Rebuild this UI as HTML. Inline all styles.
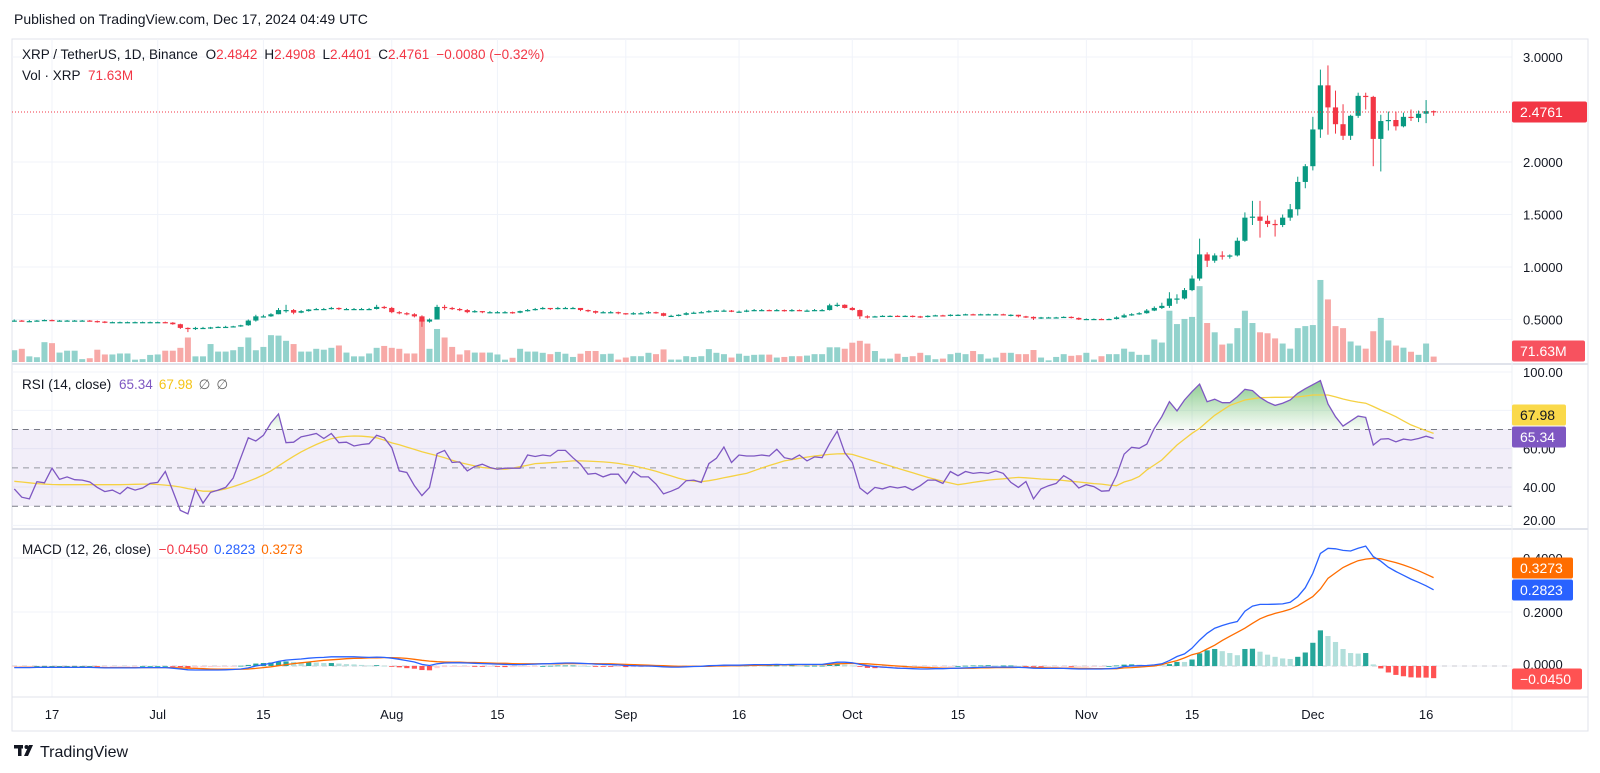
<!DOCTYPE html>
<html><head><meta charset="utf-8"><style>
html,body{margin:0;padding:0;background:#fff;}
svg{display:block;font-family:"Liberation Sans",sans-serif;}
</style></head><body>
<svg id="chart" width="1600" height="773" viewBox="0 0 1600 773" xmlns="http://www.w3.org/2000/svg">
<defs>
<clipPath id="mainClip"><rect x="12" y="39" width="1500" height="325"/></clipPath>
<clipPath id="obClip"><rect x="12" y="365" width="1500" height="64"/></clipPath>
<linearGradient id="obGrad" gradientUnits="userSpaceOnUse" x1="0" y1="372" x2="0" y2="429">
<stop offset="0" stop-color="rgb(76,175,80)" stop-opacity="0.75"/>
<stop offset="1" stop-color="rgb(76,175,80)" stop-opacity="0.04"/>
</linearGradient>
</defs>
<text x="14" y="24" font-size="14" fill="#131722">Published on TradingView.com, Dec 17, 2024 04:49 UTC</text>
<rect x="12" y="39" width="1576" height="692" fill="none" stroke="#e0e3eb"/>
<g id="grid"></g>
<rect x="12" y="429" width="1500" height="77" fill="rgba(126,87,194,0.1)"/>
<g id="marks"></g>
<line x1="12" y1="364" x2="1588" y2="364" stroke="#e0e3eb" stroke-width="2"/>
<line x1="12" y1="529" x2="1588" y2="529" stroke="#e0e3eb" stroke-width="2"/>
<line x1="1512" y1="39" x2="1512" y2="731" stroke="#eef0f4"/>
<line x1="12" y1="697" x2="1588" y2="697" stroke="#e0e3eb"/>
<g id="axes"></g>
<text x="22" y="59" font-size="13.5" fill="#131722">XRP / TetherUS, 1D, Binance <tspan dx="4">O</tspan><tspan fill="#f23645">2.4842</tspan><tspan dx="7">H</tspan><tspan fill="#f23645">2.4908</tspan><tspan dx="7">L</tspan><tspan fill="#f23645">2.4401</tspan><tspan dx="7">C</tspan><tspan fill="#f23645">2.4761</tspan><tspan dx="7" fill="#f23645">−0.0080 (−0.32%)</tspan></text>
<text x="22" y="80" font-size="13.5" fill="#131722">Vol · XRP <tspan dx="4" fill="#f23645">71.63M</tspan></text>
<text x="22" y="389" font-size="13.5" fill="#131722">RSI (14, close) <tspan dx="4" fill="#7e57c2">65.34</tspan><tspan dx="6" fill="#f5c518">67.98</tspan><tspan dx="6" fill="#666">∅</tspan><tspan dx="6" fill="#666">∅</tspan></text>
<text x="22" y="554" font-size="13.5" fill="#131722">MACD (12, 26, close) <tspan dx="4" fill="#f23645">−0.0450</tspan><tspan dx="6" fill="#2962ff">0.2823</tspan><tspan dx="6" fill="#ff6d00">0.3273</tspan></text>
<g>
<rect x="14" y="745" width="9" height="3.5" fill="#131722"/>
<rect x="18" y="745" width="3.5" height="11" fill="#131722"/>
<circle cx="26.5" cy="747" r="2" fill="#131722"/>
<path d="M29 745 L33 745 L28 756 L24 756 Z" fill="#131722"/>
<text x="40" y="757" font-size="16" fill="#131722">TradingView</text>
</g>
</svg>
<script>
const firstOpen = 0.49;
const closes = [0.49,0.485,0.485,0.49,0.495,0.49,0.49,0.49,0.49,0.49,0.485,0.48,0.475,0.475,0.475,0.475,0.475,0.475,0.475,
0.475,0.47,0.455,0.42,0.41,0.42,0.42,0.425,0.43,0.43,0.435,0.445,0.49,0.53,0.53,0.55,0.59,0.59,0.565,0.58,0.595,0.60,0.60,0.61,0.60,0.60,0.60,0.60,0.60,0.62,0.61,
0.57,0.56,0.55,0.53,0.48,0.50,0.62,0.61,0.60,0.59,0.57,0.58,0.57,0.57,0.57,0.57,0.565,0.58,0.59,0.60,0.61,0.60,0.61,0.61,0.61,0.59,0.58,0.565,0.57,0.57,0.56,
0.55,0.56,0.56,0.57,0.56,0.535,0.535,0.545,0.56,0.565,0.57,0.58,0.585,0.585,0.575,0.575,0.585,0.59,0.59,0.585,0.59,0.58,0.59,0.585,0.585,0.59,0.59,0.635,0.64,0.61,
0.59,0.53,0.525,0.53,0.535,0.535,0.53,0.535,0.53,0.525,0.535,0.54,0.535,0.545,0.545,0.55,0.545,0.55,0.55,0.55,0.545,0.545,0.53,0.525,0.51,0.52,0.52,0.52,0.525,0.515,0.50,
0.505,0.505,0.50,0.505,0.52,0.54,0.55,0.56,0.585,0.61,0.63,0.70,0.70,0.78,0.89,1.12,1.06,1.11,1.10,1.11,1.25,1.47,1.48,1.44,1.41,1.40,1.47,1.55,1.81,1.96,
2.31,2.73,2.52,2.36,2.25,2.44,2.63,2.62,2.22,2.39,2.40,2.34,2.43,2.42,2.46,2.4842,2.4761];
const highs = [0.50,0.495,0.495,0.495,0.50,0.50,0.495,0.495,0.495,0.495,0.495,0.49,0.485,0.48,0.48,0.48,0.48,0.48,0.48,
0.48,0.48,0.475,0.46,0.425,0.43,0.43,0.43,0.435,0.44,0.44,0.45,0.50,0.545,0.545,0.56,0.61,0.64,0.60,0.59,0.60,0.61,0.61,0.62,0.615,0.61,0.61,0.61,0.61,0.64,0.63,
0.62,0.58,0.57,0.56,0.54,0.51,0.64,0.64,0.62,0.61,0.60,0.59,0.58,0.58,0.58,0.58,0.575,0.585,0.60,0.61,0.62,0.61,0.62,0.62,0.62,0.61,0.595,0.585,0.58,0.58,0.575,
0.56,0.57,0.57,0.58,0.575,0.565,0.545,0.55,0.57,0.575,0.58,0.59,0.59,0.595,0.59,0.585,0.595,0.60,0.60,0.595,0.60,0.595,0.60,0.595,0.595,0.60,0.60,0.65,0.66,0.645,
0.62,0.595,0.54,0.535,0.54,0.54,0.54,0.54,0.54,0.535,0.54,0.545,0.545,0.55,0.55,0.555,0.555,0.555,0.555,0.555,0.555,0.55,0.545,0.535,0.53,0.525,0.525,0.525,0.53,0.53,0.52,
0.51,0.51,0.51,0.51,0.53,0.555,0.56,0.57,0.60,0.625,0.66,0.76,0.74,0.80,0.92,1.27,1.14,1.13,1.15,1.12,1.28,1.52,1.63,1.63,1.49,1.45,1.50,1.60,1.86,1.98,
2.43,2.88,2.92,2.68,2.55,2.45,2.66,2.66,2.63,2.45,2.48,2.48,2.47,2.50,2.49,2.59,2.4908];
const lows = [0.48,0.48,0.475,0.48,0.485,0.485,0.48,0.485,0.485,0.485,0.48,0.47,0.465,0.47,0.47,0.47,0.47,0.47,0.47,
0.47,0.465,0.45,0.41,0.38,0.40,0.41,0.41,0.42,0.42,0.425,0.43,0.44,0.48,0.52,0.525,0.55,0.565,0.55,0.56,0.575,0.59,0.59,0.595,0.59,0.59,0.595,0.59,0.59,0.595,0.60,
0.56,0.55,0.54,0.52,0.43,0.47,0.50,0.59,0.59,0.58,0.56,0.565,0.56,0.56,0.56,0.56,0.555,0.56,0.575,0.585,0.595,0.59,0.595,0.60,0.60,0.58,0.57,0.555,0.56,0.56,0.55,
0.545,0.545,0.55,0.555,0.555,0.53,0.525,0.53,0.54,0.555,0.56,0.565,0.575,0.575,0.57,0.565,0.57,0.58,0.58,0.58,0.58,0.575,0.575,0.58,0.575,0.58,0.58,0.585,0.62,0.605,
0.585,0.505,0.51,0.52,0.525,0.53,0.525,0.525,0.52,0.515,0.52,0.53,0.53,0.53,0.54,0.54,0.54,0.54,0.545,0.545,0.54,0.53,0.52,0.515,0.495,0.505,0.515,0.515,0.515,0.51,0.495,
0.495,0.50,0.495,0.495,0.50,0.515,0.535,0.545,0.555,0.58,0.60,0.61,0.65,0.69,0.77,0.87,1.00,1.04,1.07,1.08,1.10,1.24,1.40,1.28,1.38,1.29,1.38,1.44,1.49,1.75,
1.92,2.23,2.26,2.27,2.21,2.21,2.42,2.50,1.96,1.91,2.30,2.30,2.33,2.39,2.38,2.37,2.4401];
const volumes = [156,175,75,63,263,250,125,150,150,38,50,163,100,100,113,113,31,38,94,100,
150,150,188,325,75,75,238,138,138,156,200,325,156,200,356,350,281,238,138,138,
175,163,188,219,125,75,75,113,188,213,188,175,113,113,563,175,438,325,200,100,
156,125,125,125,100,31,56,175,138,138,
122,104,134,110,67,110,146,146,104,110,32,59,77,77,122,104,167,32,32,77,
67,77,171,122,104,59,110,82,95,98,98,59,67,77,77,85,104,104,195,195,
176,256,281,244,146,45,45,110,67,77,122,90,37,45,104,122,104,146,104,45,
59,122,122,104,104,159,59,22,67,104,82,90,122,32,77,104,104,
177,136,95,95,299,258,680,503,571,598,1006,517,394,231,245,449,680,517,394,381,
313,245,177,449,476,490,1088,830,476,449,272,218,177,408,585,286,218,190,136,95,245,72];
const rsi = [39,34.7,33.8,42.8,42.2,49.8,44,45.3,43.8,43.6,42.6,39.8,37.6,38.4,36.4,39.8,38.4,39.5,41.9,42.4,
48.1,38,27.8,26,39,31.6,37.2,38.4,39.8,44.7,55.3,65.7,64,67,73.4,78.1,63.1,63.4,66.2,67,
67.9,65.3,67.9,63.1,63.4,61.4,62.2,62.6,67,65.7,60.5,48.4,47.6,40.7,35.5,39.8,57.4,59.1,52.8,53.1,
48.4,50.7,51.9,50.2,49.3,49.8,49.8,49.8,56.7,55.9,
56.7,56.2,59.1,59.1,55.3,51.9,46.7,47.1,45.3,46.7,46.7,41.9,48.1,45.3,45.3,41.6,36.4,37.8,39.5,43.3,
43.6,42.4,52.2,55,60.9,52.8,56.7,56.2,56.2,56.7,56.2,59.7,55.3,54.5,56.7,53.6,55.7,55.3,62.6,69.1,
57.9,52.8,39.5,36.4,39.8,39,40.2,39.5,40.2,38.4,40.7,43.6,43.6,41.9,48.1,45.9,48.1,47.1,47.6,47.1,
48.4,47.1,42.4,39.8,42.9,33.8,39,40.7,41.9,45.9,43.6,39.5,41.2,40.2,37.8,38.1,46,
57.1,60.7,60.2,62.4,70.6,76.7,84.5,79.7,85.4,89.7,93.7,84.5,85.8,84,84,87.1,91,90.3,86.8,84.3,
82.6,83.7,85.4,88.9,91.3,93.4,95.5,83.3,76.7,71.8,74.4,77,76.3,61.9,65,65.2,63.6,65,64.5,65.3,66.5,65.34];
const rsiMA = [43,42.6,42.2,41.8,41.5,41.3,41.2,41.2,41.2,41.2,41.2,41.2,41.2,41.2,41.2,41.3,41.4,41.5,41.5,41.3,
41,40.6,40,39.2,38.5,37.8,37.8,38.2,39,40.2,41.5,43,44.5,46.3,48.4,51,53.5,56,58.3,60.3,
62.2,63.8,65.2,66,66.4,66.6,66.5,66.2,65.7,64.5,63,62,60.8,59.6,58.4,57.4,56.4,55.3,54,52.8,
51.9,51,50.2,49.8,49.5,49.3,49.8,50.6,51.4,52.2,
52.4,52.7,53,53.3,53.6,53.6,53.5,53.3,53.1,52.8,52.3,51.7,51,50.2,49.3,48.2,47,45.8,44.6,43.6,
43.1,42.8,43.3,44,44.8,45.6,46.4,47.1,48.5,49.9,51.2,52.4,53.6,54.3,55,55.6,56.2,56.6,57,57.3,
57.4,57,55.8,54.6,53.4,52.2,51,49.8,48.6,47.4,46.2,45,44,43,42.1,41.2,41.8,42.4,43,43.6,
44,44.3,44.7,45,44.8,44.5,44.2,44,43.8,43.4,43,42.6,42.2,41.8,41.5,41,40.7,
42.6,43.7,45.5,48.9,51.5,54.1,58,61.9,65,68,70.6,74,77.4,80,82.6,84,85.4,86,86.6,86.7,
86.8,86.8,86.9,87,87.5,88,88,88,87,85.9,85,84.3,83.7,82,80.2,78.5,76.7,74.5,72.4,70.9,69.4,67.98];
const macd = [-0.006,-0.006,-0.006,-0.005,-0.005,-0.005,-0.005,-0.005,-0.005,-0.005,-0.005,-0.006,-0.007,-0.007,-0.007,-0.007,-0.007,-0.006,-0.006,
-0.006,-0.006,-0.008,-0.011,-0.014,-0.015,-0.015,-0.015,-0.015,-0.014,-0.013,-0.011,-0.007,0.000,0.005,0.010,0.017,0.022,0.024,0.026,0.029,0.031,0.032,0.034,0.034,0.034,0.034,0.033,0.032,0.033,0.032,
0.029,0.025,0.020,0.015,0.006,0.002,0.008,0.011,0.012,0.012,0.011,0.010,0.009,0.008,0.007,0.006,0.005,0.005,0.006,0.007,0.008,0.009,0.010,0.011,0.011,0.010,0.009,0.007,0.006,0.005,0.004,
0.002,0.001,0.000,0.000,-0.001,-0.003,-0.004,-0.004,-0.003,-0.002,-0.001,0.001,0.002,0.003,0.003,0.003,0.004,0.005,0.005,0.005,0.006,0.005,0.006,0.006,0.006,0.006,0.006,0.010,0.014,0.014,
0.012,0.006,0.001,-0.002,-0.004,-0.006,-0.008,-0.009,-0.010,-0.011,-0.011,-0.010,-0.010,-0.009,-0.008,-0.007,-0.006,-0.005,-0.004,-0.004,-0.004,-0.004,-0.005,-0.006,-0.008,-0.009,-0.009,-0.009,-0.009,-0.010,-0.011,
-0.011,-0.011,-0.011,-0.010,-0.008,
-0.002,0.000,0.001,0.002,0.004,0.008,0.020,0.035,0.045,0.066,0.096,0.121,0.140,0.150,0.158,0.165,0.203,0.222,0.228,0.228,
0.229,0.230,0.236,0.257,0.290,0.343,0.417,0.436,0.434,0.428,0.426,0.436,0.444,0.405,0.388,0.366,0.350,0.336,0.322,0.310,0.297,0.2823];
const signalLine = [-0.005,-0.005,-0.005,-0.005,-0.005,-0.005,-0.005,-0.005,-0.005,-0.005,-0.005,-0.005,-0.006,-0.006,-0.006,-0.006,-0.006,-0.006,-0.006,
-0.006,-0.006,-0.006,-0.007,-0.008,-0.009,-0.010,-0.011,-0.012,-0.012,-0.012,-0.012,-0.011,-0.009,-0.006,-0.003,0.001,0.005,0.009,0.012,0.015,0.018,0.021,0.023,0.025,0.027,0.028,0.029,0.030,0.030,0.031,
0.031,0.030,0.028,0.025,0.021,0.018,0.016,0.015,0.014,0.014,0.013,0.013,0.012,0.011,0.010,0.010,0.009,0.008,0.008,0.008,0.008,0.008,0.008,0.009,0.009,0.009,0.009,0.009,0.008,0.008,0.007,
0.006,0.005,0.004,0.003,0.002,0.001,0.000,-0.001,-0.001,-0.001,-0.001,-0.001,0.000,0.000,0.001,0.001,0.002,0.002,0.003,0.003,0.004,0.004,0.004,0.005,0.005,0.005,0.005,0.006,0.008,0.009,
0.010,0.009,0.008,0.006,0.004,0.002,0.000,-0.002,-0.004,-0.005,-0.006,-0.007,-0.008,-0.008,-0.008,-0.008,-0.008,-0.007,-0.007,-0.006,-0.006,-0.006,-0.005,-0.005,-0.006,-0.006,-0.007,-0.007,-0.008,-0.008,-0.009,
-0.009,-0.010,-0.010,-0.010,-0.010,
-0.007,-0.006,-0.004,-0.002,0.000,0.005,0.013,0.020,0.030,0.042,0.049,0.063,0.077,0.095,0.110,0.125,0.140,0.158,0.175,0.186,
0.195,0.202,0.210,0.223,0.240,0.257,0.285,0.325,0.345,0.365,0.378,0.390,0.396,0.399,0.397,0.390,0.383,0.374,0.364,0.353,0.340,0.3273];
const priceTicks = [3.0, 2.0, 1.5, 1.0, 0.5];
const priceTickLabels = ["3.0000","2.0000","1.5000","1.0000","0.5000"];
const rsiTicks = [100, 80, 60, 40, 20];
const rsiTickLabels = ["100.00","80.00","60.00","40.00","20.00"];
const rsiLevels = [70, 50, 30];
const macdTicks = [0.4, 0.2, 0.0];
const macdTickLabels = ["0.4000","0.2000","0.0000"];
const timeTickDays = [5, 19, 33, 50, 64, 81, 96, 111, 125, 142, 156, 172, 187];
const timeTickLabels = ["17","Jul","15","Aug","15","Sep","16","Oct","15","Nov","15","Dec","16"];

const NS = "http://www.w3.org/2000/svg";
const X = i => 52 + (i - 5) * 7.55;
const yP = p => 57 + (3 - p) * 105;
const yV = v => 362 - v * 0.0754;
const yR = r => 372 + (100 - r) * 1.917;
const yM = m => 666 - m * 270;
function mk(tag, attrs, parent) {
  const el = document.createElementNS(NS, tag);
  for (const k in attrs) el.setAttribute(k, attrs[k]);
  parent.appendChild(el);
  return el;
}
const grid = document.getElementById('grid');
const marks = document.getElementById('marks');
const axes = document.getElementById('axes');

timeTickDays.forEach((d, k) => {
  const gl = mk('line', {x1: X(d), x2: X(d), y1: 39, y2: 697, stroke: '#f0f3fa'}, grid);
  
  
  const t = mk('text', {x: X(d), y: 719, 'font-size': 13, fill: '#131722', 'text-anchor': 'middle'}, axes);
  t.textContent = timeTickLabels[k];
  
  
});
priceTicks.forEach((p, k) => {
  const gl = mk('line', {x1: 12, x2: 1512, y1: yP(p), y2: yP(p), stroke: '#f0f3fa'}, grid);
  
  
  const t = mk('text', {x: 1523, y: yP(p) + 5, 'font-size': 13, fill: '#131722'}, axes);
  t.textContent = priceTickLabels[k];
  
  
});
rsiTicks.forEach((r, k) => {
  const gl = mk('line', {x1: 12, x2: 1512, y1: yR(r), y2: yR(r), stroke: '#f0f3fa'}, grid);
  
  
  const t = mk('text', {x: 1523, y: Math.min(yR(r) + 5, 525), 'font-size': 13, fill: '#131722'}, axes);
  t.textContent = rsiTickLabels[k];
  
  
});
macdTicks.forEach((m, k) => {
  const gl = mk('line', {x1: 12, x2: 1512, y1: yM(m), y2: yM(m), stroke: '#f0f3fa'}, grid);
  
  
  const t = mk('text', {x: 1523, y: yM(m) + (m === 0 ? 3 : 5), 'font-size': 13, fill: '#131722'}, axes);
  t.textContent = macdTickLabels[k];
  
  
});
rsiLevels.forEach(r => {
  const l = mk('line', {x1: 12, x2: 1512, y1: yR(r), y2: yR(r), stroke: r === 50 ? '#9598a1' : '#787b86', 'stroke-dasharray': '6 5', 'stroke-width': 1}, marks);
  
  
});
const zl = mk('line', {x1: 12, x2: 1512, y1: yM(0), y2: yM(0), stroke: '#c8cad0', 'stroke-dasharray': '5 5'}, marks);



const mainG = mk('g', {'clip-path': 'url(#mainClip)'}, marks);


const opens = closes.map((c, i) => i === 0 ? firstOpen : closes[i - 1]);
volumes.forEach((v, i) => {
  const up = closes[i] >= opens[i];
  const b = mk('rect', {x: X(i) - 3, y: yV(v), width: 6, height: 362 - yV(v), fill: up ? '#92d2cc' : '#f7a9a7'}, mainG);
  
  
});
closes.forEach((c, i) => {
  const o = opens[i];
  const col = c >= o ? '#089981' : '#f23645';
  const w = mk('line', {x1: X(i), x2: X(i), y1: yP(highs[i]), y2: yP(lows[i]), stroke: col, 'stroke-width': 1}, mainG);
  
  
  const top = Math.min(yP(o), yP(c));
  const h = Math.max(1.2, Math.abs(yP(o) - yP(c)));
  const b = mk('rect', {x: X(i) - 2.6, y: top, width: 5.2, height: h, fill: col}, mainG);
  
  
});
const last = closes.length - 1;
const pl = mk('line', {x1: 12, x2: 1512, y1: yP(closes[last]), y2: yP(closes[last]), stroke: '#f23645', 'stroke-dasharray': '1 2'}, marks);



const rsiPts = rsi.map((r, i) => X(i).toFixed(1) + ',' + yR(r).toFixed(1));
const ob = mk('path', {d: 'M' + X(0) + ',' + yR(70) + ' L' + rsiPts.join(' L') + ' L' + X(last) + ',' + yR(70) + ' Z', fill: 'url(#obGrad)', 'clip-path': 'url(#obClip)'}, marks);


const ma = mk('polyline', {points: rsiMA.map((r, i) => X(i).toFixed(1) + ',' + yR(r).toFixed(1)).join(' '), fill: 'none', stroke: '#f5d142', 'stroke-width': 1.3}, marks);


const rl = mk('polyline', {points: rsiPts.join(' '), fill: 'none', stroke: '#7e57c2', 'stroke-width': 1.3}, marks);



macd.forEach((m, i) => {
  const h = m - signalLine[i];
  const prev = i > 0 ? macd[i - 1] - signalLine[i - 1] : h;
  let col;
  if (h >= 0) col = h >= prev ? '#26a69a' : '#b2dfdb';
  else col = h < prev ? '#ff5252' : '#ffcdd2';
  const y0 = yM(0), y1 = yM(h);
  const b = mk('rect', {x: X(i) - 2.6, y: Math.min(y0, y1), width: 5.2, height: Math.max(0.8, Math.abs(y1 - y0)), fill: col}, marks);
  
  
});
const sl = mk('polyline', {points: signalLine.map((m, i) => X(i).toFixed(1) + ',' + yM(m).toFixed(1)).join(' '), fill: 'none', stroke: '#ff6d00', 'stroke-width': 1.3}, marks);


const ml = mk('polyline', {points: macd.map((m, i) => X(i).toFixed(1) + ',' + yM(m).toFixed(1)).join(' '), fill: 'none', stroke: '#2962ff', 'stroke-width': 1.3}, marks);



function box(cy, w, fill, txt, tc, name) {
  const g = mk('g', {}, axes);
  
  
  mk('rect', {x: 1512, y: cy - 10.5, width: w, height: 21, rx: 2, fill: fill}, g);
  const t = mk('text', {x: 1520, y: cy + 5, 'font-size': 14, fill: tc}, g);
  t.textContent = txt;
}
box(yP(closes[last]), 75, '#f23645', closes[last].toFixed(4), '#fff', 'last-price-label');
box(351, 73, '#f7525f', '71.63M', '#fff', 'volume-value-label');
box(415, 54, '#fad94a', rsiMA[last].toFixed(2), '#131722', 'rsi-ma-value-label');
box(437, 54, '#7e57c2', rsi[last].toFixed(2), '#fff', 'rsi-value-label');
box(568, 61, '#ff6d00', signalLine[last].toFixed(4), '#fff', 'signal-value-label');
box(590, 61, '#2962ff', macd[last].toFixed(4), '#fff', 'macd-value-label');
box(679, 70, '#ff5252', '−' + Math.abs(macd[last] - signalLine[last]).toFixed(4), '#fff', 'histogram-value-label');
</script>
</body></html>
